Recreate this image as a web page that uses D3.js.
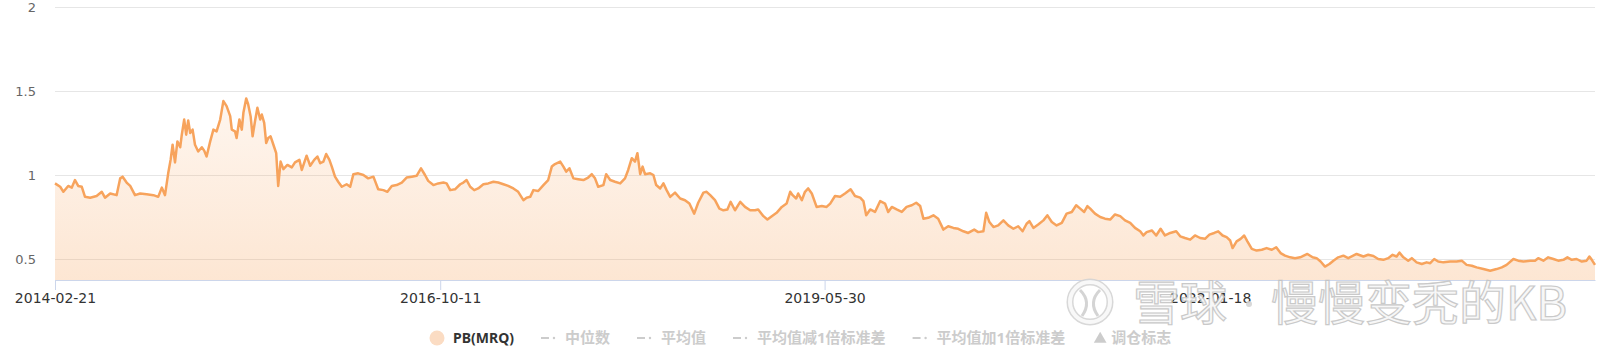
<!DOCTYPE html>
<html>
<head>
<meta charset="utf-8">
<script src="https://cdn.jsdelivr.net/npm/d3@7"></script>
<style>
  html, body { margin: 0; padding: 0; background: #fff; }
  svg { display: block; font-family: "Noto Sans", "Noto Sans CJK SC", sans-serif; }
</style>
</head>
<body>
<div id="chart"></div>
<script>
// ---------------- data ----------------
var startDate = "2014-02-21";

// days since startDate
var pbDays = [0,13,21,33,42,50,58,67,75,88,104,117,125,138,154,163,169,179,188,200,213,229,246,258,267,275,283,289,294,300,306,313,317,323,328,333,338,344,350,358,367,373,379,388,396,404,413,421,429,438,442,450,454,461,467,471,478,483,489,494,500,506,513,517,523,528,533,539,546,553,558,564,571,581,592,600,611,617,629,638,648,656,663,671,678,686,692,700,708,717,729,738,746,758,771,783,796,808,821,831,842,854,867,879,892,904,915,925,933,946,958,971,979,988,1000,1013,1021,1029,1038,1048,1058,1071,1083,1096,1108,1121,1133,1146,1158,1171,1179,1188,1196,1208,1221,1233,1242,1250,1263,1271,1278,1286,1296,1308,1321,1333,1342,1350,1358,1371,1378,1388,1400,1413,1425,1433,1442,1450,1456,1463,1469,1475,1488,1496,1503,1513,1521,1529,1538,1550,1563,1575,1586,1598,1608,1621,1629,1638,1650,1661,1671,1681,1689,1700,1713,1725,1738,1750,1758,1771,1781,1792,1804,1817,1829,1838,1844,1853,1858,1867,1875,1883,1892,1904,1917,1929,1938,1950,1963,1975,1989,2000,2013,2021,2028,2038,2050,2063,2075,2083,2092,2104,2117,2129,2142,2153,2163,2171,2183,2196,2208,2221,2233,2246,2258,2271,2283,2298,2308,2321,2328,2336,2346,2358,2371,2383,2396,2408,2419,2429,2436,2446,2458,2471,2481,2492,2504,2517,2529,2542,2553,2563,2573,2581,2588,2600,2613,2625,2638,2650,2663,2675,2688,2700,2713,2721,2729,2742,2753,2764,2775,2788,2803,2813,2825,2838,2850,2863,2875,2886,2898,2908,2919,2929,2938,2944,2954,2964,2973,2981,2992,3004,3017,3029,3042,3053,3064,3075,3088,3100,3113,3131,3144,3154,3164,3175,3186,3196,3208,3221,3233,3254,3271,3283,3296,3308,3321,3333,3344,3354,3361,3371,3383,3392,3404,3417,3429,3438,3448,3458,3471,3488,3504,3517,3529,3542,3554,3571,3588,3604,3617,3629,3646,3658,3671,3688,3700,3708,3721,3733,3746,3758,3771,3781,3792,3804,3817,3829,3836,3842,3850];

var pbValues = [0.95,0.93,0.90,0.935,0.925,0.97,0.935,0.93,0.87,0.865,0.875,0.90,0.865,0.89,0.88,0.98,0.99,0.955,0.935,0.88,0.89,0.885,0.88,0.87,0.925,0.88,1.01,1.09,1.18,1.075,1.20,1.165,1.24,1.33,1.24,1.325,1.25,1.27,1.18,1.14,1.165,1.145,1.11,1.20,1.27,1.26,1.33,1.44,1.41,1.35,1.27,1.26,1.22,1.33,1.27,1.37,1.456,1.42,1.35,1.23,1.32,1.40,1.33,1.36,1.31,1.19,1.22,1.23,1.18,1.13,0.935,1.08,1.035,1.06,1.045,1.075,1.09,1.03,1.115,1.055,1.09,1.11,1.07,1.08,1.125,1.09,1.05,0.99,0.96,0.93,0.945,0.93,1.005,1.01,1.00,0.98,0.99,0.915,0.91,0.90,0.935,0.94,0.955,0.985,0.99,0.995,1.04,1.00,0.965,0.94,0.95,0.955,0.95,0.91,0.915,0.945,0.955,0.97,0.93,0.91,0.92,0.945,0.95,0.96,0.955,0.945,0.935,0.92,0.90,0.85,0.865,0.87,0.91,0.905,0.94,0.97,1.05,1.065,1.08,1.05,1.02,1.04,0.98,0.975,0.97,0.985,1.005,0.98,0.93,0.94,1.005,0.97,0.96,0.95,0.98,1.03,1.10,1.08,1.13,1.005,1.05,1.005,1.01,1.0,0.94,0.92,0.95,0.91,0.87,0.895,0.86,0.85,0.83,0.77,0.835,0.895,0.90,0.88,0.85,0.80,0.79,0.795,0.84,0.79,0.84,0.81,0.79,0.79,0.795,0.755,0.735,0.755,0.775,0.81,0.83,0.90,0.88,0.86,0.89,0.85,0.90,0.92,0.89,0.81,0.815,0.81,0.83,0.875,0.87,0.89,0.915,0.875,0.865,0.845,0.76,0.795,0.78,0.845,0.83,0.78,0.81,0.795,0.78,0.81,0.82,0.835,0.815,0.74,0.745,0.76,0.74,0.675,0.695,0.685,0.68,0.665,0.655,0.675,0.66,0.665,0.775,0.72,0.69,0.70,0.73,0.70,0.68,0.695,0.665,0.71,0.725,0.685,0.705,0.73,0.76,0.72,0.70,0.715,0.77,0.78,0.82,0.80,0.78,0.815,0.80,0.77,0.75,0.74,0.735,0.765,0.755,0.73,0.715,0.685,0.665,0.64,0.66,0.67,0.64,0.68,0.64,0.655,0.665,0.635,0.625,0.615,0.64,0.625,0.62,0.645,0.655,0.665,0.64,0.63,0.61,0.565,0.605,0.62,0.64,0.605,0.56,0.55,0.555,0.565,0.555,0.57,0.535,0.52,0.51,0.505,0.51,0.53,0.51,0.505,0.485,0.455,0.47,0.49,0.51,0.52,0.505,0.53,0.515,0.525,0.518,0.50,0.495,0.505,0.525,0.515,0.538,0.51,0.49,0.505,0.48,0.47,0.48,0.475,0.50,0.485,0.48,0.485,0.485,0.49,0.465,0.46,0.45,0.44,0.43,0.44,0.45,0.465,0.50,0.49,0.485,0.49,0.49,0.505,0.49,0.51,0.50,0.49,0.495,0.51,0.495,0.50,0.485,0.49,0.515,0.495,0.465];

var xTickLabels = ["2014-02-21", "2016-10-11", "2019-05-30", "2022-01-18"];
var yTickValues = [0.5, 1, 1.5, 2];
var yMin = 0.375, yMax = 2;

var legendNames = ["PB(MRQ)", "中位数", "平均值", "平均值减1倍标准差", "平均值加1倍标准差", "调仓标志"];
var watermarkText = ["雪球", "慢慢变秃的KB"];

// ---------------- layout ----------------
var svgWidth = 1611, svgHeight = 355;
var plot = { left: 55, right: 1595, top: 7, bottom: 280 };
var lineColor = "#f7a35c";

var svg = d3.select("#chart").append("svg")
    .attr("width", svgWidth)
    .attr("height", svgHeight);

var parse = d3.timeParse("%Y-%m-%d");
var fmt = d3.timeFormat("%Y-%m-%d");
var t0 = parse(startDate);

var data = pbDays.map(function(d, i) {
    return { date: d3.timeDay.offset(t0, d), pb: pbValues[i] };
});

var x = d3.scaleTime()
    .domain(d3.extent(data, d => d.date))
    .range([plot.left, plot.right]);

var y = d3.scaleLinear()
    .domain([yMin, yMax])
    .range([plot.bottom, plot.top]);

// gradient for the area
var defs = svg.append("defs");
var grad = defs.append("linearGradient")
    .attr("id", "pbFill")
    .attr("gradientUnits", "userSpaceOnUse")
    .attr("x1", 0).attr("x2", 0)
    .attr("y1", y(d3.max(pbValues))).attr("y2", plot.bottom);
grad.append("stop").attr("offset", "0%").attr("stop-color", lineColor).attr("stop-opacity", 0.1);
grad.append("stop").attr("offset", "100%").attr("stop-color", lineColor).attr("stop-opacity", 0.27);

// grid lines + y labels
var yAxis = d3.axisLeft(y)
    .tickValues(yTickValues)
    .tickSize(-(plot.right - plot.left))
    .tickPadding(19)
    .tickFormat(d3.format("~g"));

var yG = svg.append("g")
    .attr("transform", `translate(${plot.left},0)`)
    .call(yAxis);
yG.select(".domain").remove();
yG.selectAll(".tick line").attr("stroke", "#e6e6e6");
yG.selectAll(".tick text")
    .attr("fill", "#666")
    .style("font-size", "13px")
    .style("font-family", "DejaVu Sans, sans-serif");

// area + line
var area = d3.area()
    .x(d => x(d.date))
    .y0(plot.bottom)
    .y1(d => y(d.pb));

var line = d3.line()
    .x(d => x(d.date))
    .y(d => y(d.pb));

svg.append("path")
    .datum(data)
    .attr("fill", "url(#pbFill)")
    .attr("d", area);

svg.append("path")
    .datum(data)
    .attr("fill", "none")
    .attr("stroke", lineColor)
    .attr("stroke-width", 2.5)
    .attr("stroke-linejoin", "round")
    .attr("d", line);

// x axis
var xAxis = d3.axisBottom(x)
    .tickValues(xTickLabels.map(parse))
    .tickSize(10)
    .tickSizeOuter(0)
    .tickPadding(3)
    .tickFormat(fmt);

var xG = svg.append("g")
    .attr("transform", `translate(0,${plot.bottom})`)
    .call(xAxis);
xG.select(".domain").attr("stroke", "#ccd6eb");
xG.selectAll(".tick line").attr("stroke", "#ccd6eb");
xG.selectAll(".tick text")
    .attr("fill", "#333")
    .style("font-size", "14px")
    .style("font-family", "DejaVu Sans, sans-serif");

// legend
var legend = svg.append("g").attr("transform", "translate(0,338)");
var lx = 429;
legendNames.forEach(function(name, i) {
    var hidden = i > 0;
    var col = hidden ? "#cccccc" : "#333333";
    if (i === 0) {
        legend.append("circle").attr("cx", lx + 8).attr("cy", 0).attr("r", 7.5).attr("fill", "#fbdcc3");
    } else if (i < 5) {
        legend.append("line").attr("x1", lx).attr("x2", lx + 8).attr("y1", 0).attr("y2", 0)
            .attr("stroke", col).attr("stroke-width", 2);
        legend.append("circle").attr("cx", lx + 13).attr("cy", 0).attr("r", 1.2).attr("fill", col);
    } else {
        legend.append("path").attr("d", d3.symbol(d3.symbolTriangle, 70)())
            .attr("transform", `translate(${lx + 8},1)`).attr("fill", col);
    }
    var tx = lx + (i === 5 ? 19 : 24);
    var txt = legend.append("text")
        .attr("x", tx).attr("y", 5)
        .attr("fill", col)
        .style("font-size", i === 0 ? "14px" : "15px")
        .style("font-weight", "bold")
        .text(name);
    lx = tx + txt.node().getComputedTextLength() + 27;
});

// watermark
var wm = svg.append("g").attr("opacity", 0.9);
var wmStyle = function(sel) {
    return sel.attr("fill", "#f7f7f7").attr("stroke", "#c4c4c4").attr("stroke-width", 1.2)
        .style("font-size", "47px").style("font-family", "Noto Sans CJK SC, sans-serif");
};
wm.append("circle").attr("cx", 1090).attr("cy", 302).attr("r", 20)
    .attr("fill", "none").attr("stroke", "#d4d4d4").attr("stroke-width", 7);
wm.append("circle").attr("cx", 1090).attr("cy", 302).attr("r", 20)
    .attr("fill", "none").attr("stroke", "#f8f8f8").attr("stroke-width", 4);
wm.append("path").attr("d", "M1080,290 Q1092,302 1082,316 M1100,290 Q1088,302 1098,316")
    .attr("fill", "none").attr("stroke", "#d0d0d0").attr("stroke-width", 3);
wmStyle(wm.append("text").attr("x", 1133).attr("y", 320).text(watermarkText[0]));
wm.append("circle").attr("cx", 1249).attr("cy", 304).attr("r", 3).attr("fill", "#d4d4d4");
wmStyle(wm.append("text").attr("x", 1271).attr("y", 320).text(watermarkText[1]));
</script>
</body>
</html>
